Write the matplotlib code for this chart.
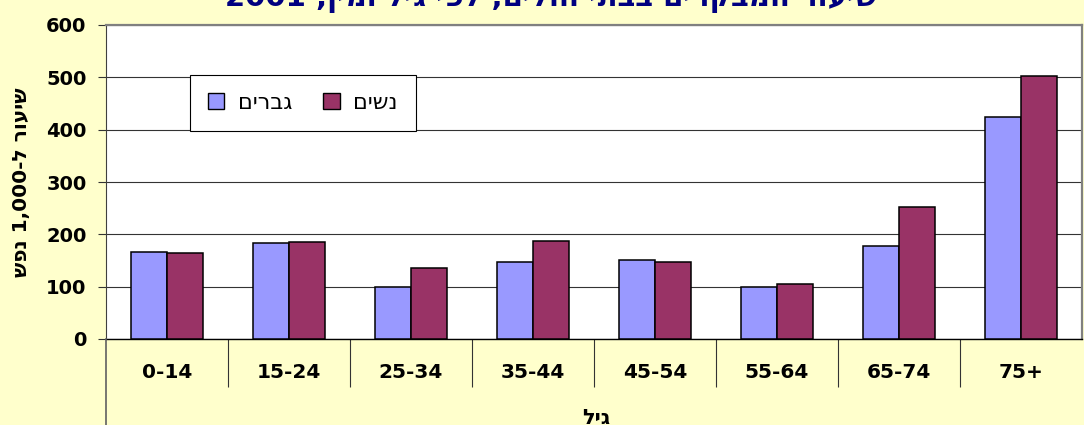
import numpy as np
import matplotlib
matplotlib.use('Agg')
import matplotlib.pyplot as plt
from matplotlib.lines import Line2D
from matplotlib.patches import Patch


plt.rcParams['font.family'] = ['DejaVu Sans']
plt.rcParams['axes.unicode_minus'] = False


age_groups = ['0-14', '15-24', '25-34', '35-44', '45-54', '55-64', '65-74', '75+']
men = [167, 184, 99, 148, 151, 100, 177, 425]
women = [164, 186, 135, 187, 148, 106, 252, 503]

# matplotlib has no bidi support, so the Hebrew strings are kept in visual (left-to-right) order
title_text = '2001 ,ןימו ליג יפל ,םילוח יתבב םירקבמה רועיש'
ylabel_text = 'שפנ 1,000-ל רועיש'
xlabel_text = 'ליג'
men_label = 'םירבג'
women_label = 'םישנ'

BG = '#FFFFCC'
MEN_C = '#9999FF'
WOMEN_C = '#993366'

W, H = 1084, 425
fig = plt.figure(figsize=(W / 100, H / 100), dpi=100, facecolor=BG)
ax = fig.add_axes([106 / W, 1 - 339 / H, (1082 - 106) / W, (339 - 25) / H])
ax.set_facecolor('white')

x = np.arange(len(age_groups))
bw = 0.296
ax.bar(x - bw / 2, men, bw, color=MEN_C, edgecolor='black', linewidth=1.1, zorder=3)
ax.bar(x + bw / 2, women, bw, color=WOMEN_C, edgecolor='black', linewidth=1.1, zorder=3)

ax.set_xlim(-0.5, len(age_groups) - 0.5)
ax.set_ylim(0, 600)
ax.set_yticks(np.arange(0, 601, 100))
ax.yaxis.grid(True, color='#333333', linewidth=0.8, zorder=0)
ax.tick_params(axis='y', direction='out', length=6, width=0.8, color='#333333', pad=8,
               labelsize=14)
for lab in ax.get_yticklabels():
    lab.set_fontweight('bold')

# category separators as long ticks, labels on minor ticks at centres
ax.set_xticks(np.arange(0.5, len(age_groups) - 1, 1))
ax.set_xticklabels([])
ax.tick_params(axis='x', which='major', direction='out', length=34.5, width=0.8, color='#333333')
ax.set_xticks(x, minor=True)
ax.set_xticklabels(age_groups, minor=True, fontsize=14.5, fontweight='bold')
ax.tick_params(axis='x', which='minor', length=0, pad=17)

for side in ['top', 'right']:
    ax.spines[side].set_color('#808080')
    ax.spines[side].set_linewidth(1.6)
ax.spines['left'].set_color('#404040')
ax.spines['bottom'].set_color('black')
ax.spines['bottom'].set_linewidth(1.0)

# left axis line continues down to the bottom of the chart area
fig.add_artist(Line2D([106 / W, 106 / W], [0, 1 - 339 / H], color='#606060', linewidth=1.2))

ax.set_ylabel(ylabel_text, fontsize=14.5, fontweight='bold')
ax.yaxis.set_label_coords(-(106 - 31) / (1082 - 106), 0.5)

fig.text(596 / W, 1 - 408 / H, xlabel_text, ha='center', va='top', fontsize=15, fontweight='bold')
fig.text(551 / W, 1 - 6 / H, title_text, ha='center', va='baseline', fontsize=21,
         fontweight='bold', color='#000080')

handles = [Patch(facecolor=MEN_C, edgecolor='black', linewidth=1.0),
           Patch(facecolor=WOMEN_C, edgecolor='black', linewidth=1.0)]
leg = fig.legend(handles, [men_label, women_label], ncol=2, loc='upper left',
                 bbox_to_anchor=(190 / W, 1 - 75 / H), borderaxespad=0, fontsize=16,
                 frameon=True, fancybox=False, edgecolor='black', framealpha=1,
                 handlelength=0.75, handleheight=0.75, handletextpad=0.6,
                 columnspacing=1.4, borderpad=0.8)
leg.get_frame().set_linewidth(0.8)

fig.savefig('out.png', dpi=100, facecolor=BG)
